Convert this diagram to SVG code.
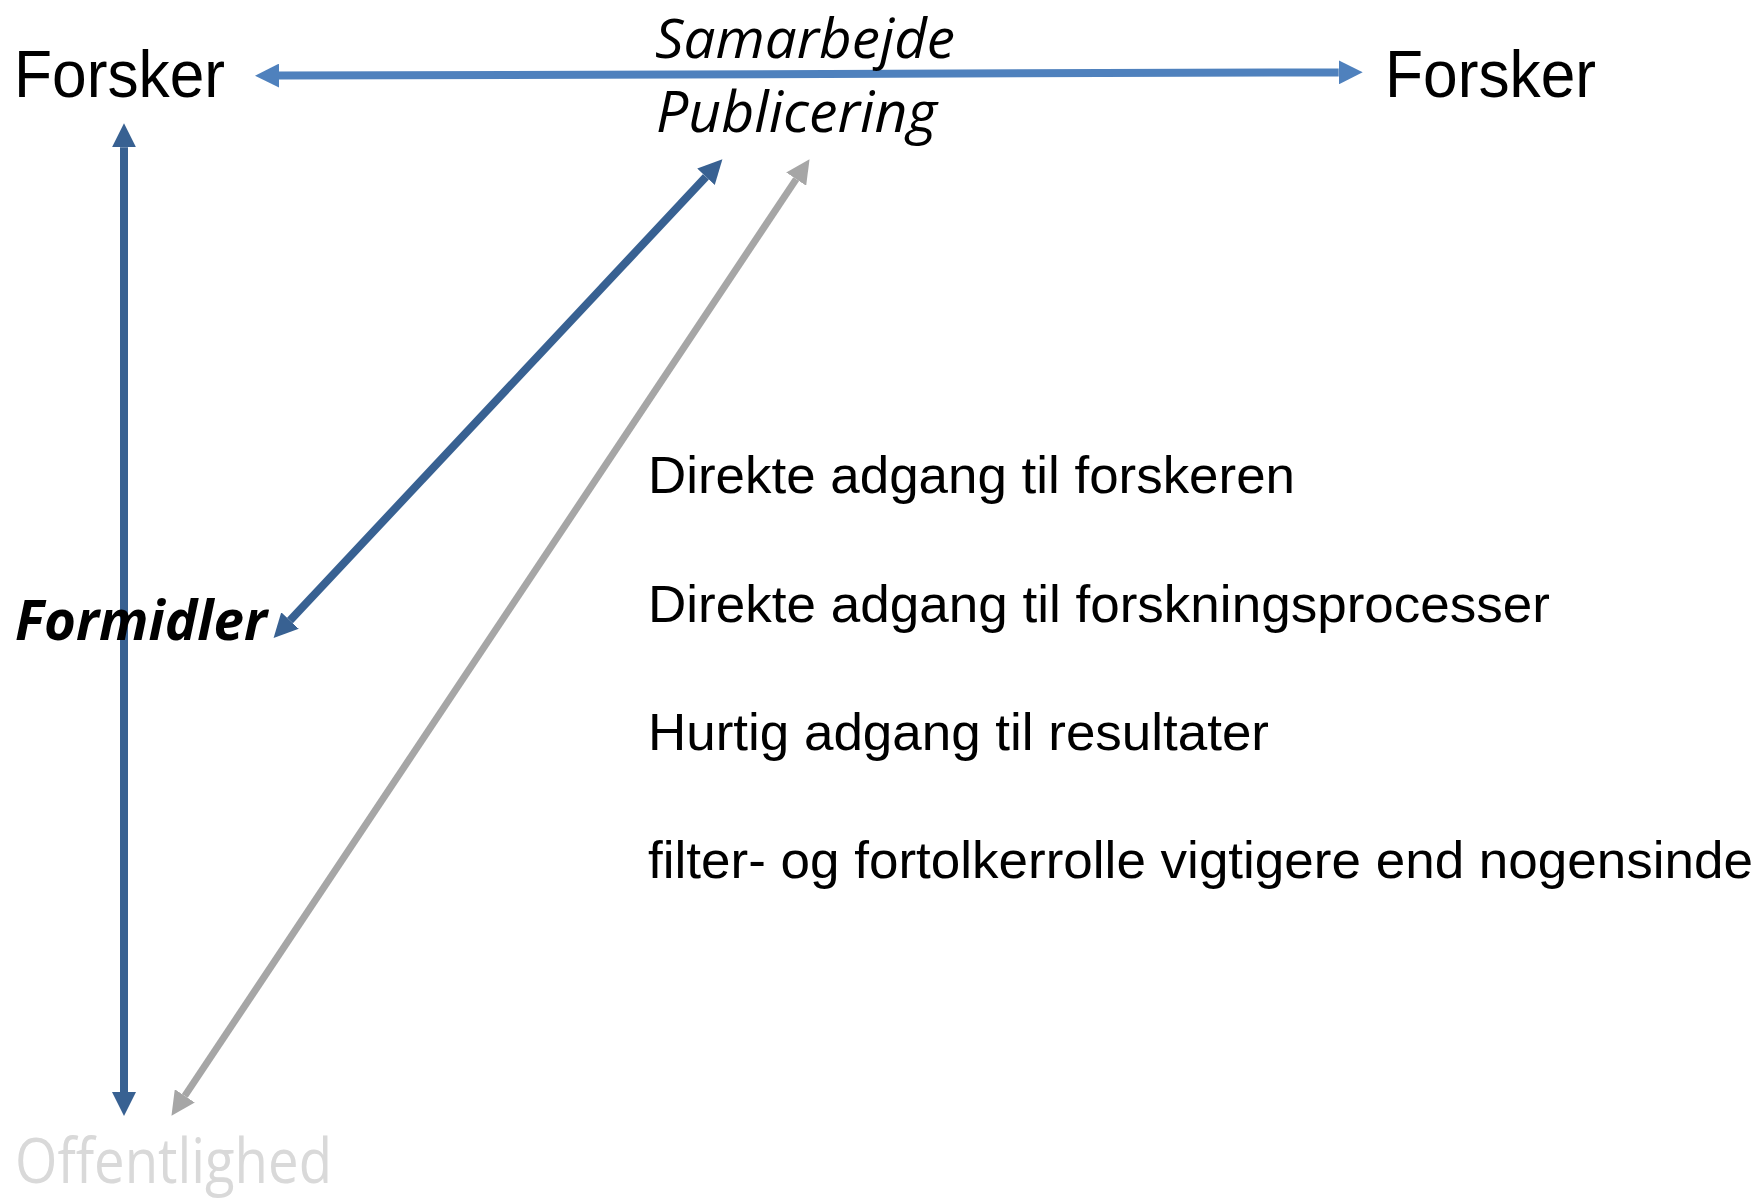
<svg xmlns="http://www.w3.org/2000/svg" width="1759" height="1199" viewBox="0 0 1759 1199">
<style>
.arial{font-family:"Liberation Sans",Arial,sans-serif;fill:#000}
.cal{font-family:"Open Sans","Noto Sans",sans-serif}
.big{font-size:66px}
.item{font-size:52px}
</style>
<defs>
<marker id="hLight" markerUnits="userSpaceOnUse" markerWidth="24" markerHeight="24" viewBox="0 0 24 24" refX="0" refY="12" orient="auto-start-reverse"><path d="M0,0 L24,12 L0,24 z" fill="#4f81bd"/></marker>
<marker id="hDark" markerUnits="userSpaceOnUse" markerWidth="24" markerHeight="24" viewBox="0 0 24 24" refX="0" refY="12" orient="auto-start-reverse"><path d="M0,0 L24,12 L0,24 z" fill="#386192"/></marker>
<marker id="hGray" markerUnits="userSpaceOnUse" markerWidth="24" markerHeight="24" viewBox="0 0 24 24" refX="0" refY="12" orient="auto-start-reverse"><path d="M0,0 L24,12 L0,24 z" fill="#a6a6a6"/></marker>
</defs>
<rect width="1759" height="1199" fill="#fff"/>
<g id="connectors" fill="none">
<line x1="279" y1="75.6" x2="1338.7" y2="72.4" stroke="#4f81bd" stroke-width="8" marker-start="url(#hLight)" marker-end="url(#hLight)"/>
<line x1="124" y1="147.3" x2="124" y2="1092" stroke="#386192" stroke-width="8" marker-start="url(#hDark)" marker-end="url(#hDark)"/>
<line x1="290" y1="620.5" x2="706" y2="176.8" stroke="#386192" stroke-width="8" marker-start="url(#hDark)" marker-end="url(#hDark)"/>
<line x1="184.8" y1="1095.9" x2="796.2" y2="179.1" stroke="#a6a6a6" stroke-width="7" marker-start="url(#hGray)" marker-end="url(#hGray)"/>
</g>
<g id="forsker-left"><text class="arial big" x="14" y="97" textLength="211" lengthAdjust="spacingAndGlyphs">Forsker</text></g>
<g id="forsker-right"><text class="arial big" x="1385" y="97" textLength="211" lengthAdjust="spacingAndGlyphs">Forsker</text></g>
<g id="samarbejde"><text class="cal" x="655" y="58" font-size="55" font-style="italic" textLength="300" lengthAdjust="spacingAndGlyphs">Samarbejde</text>
<text class="cal" x="656" y="131.7" font-size="56" font-style="italic" textLength="281" lengthAdjust="spacingAndGlyphs">Publicering</text></g>
<g id="formidler"><text class="cal" x="15" y="640" font-size="56" font-style="italic" font-weight="bold" textLength="252" lengthAdjust="spacingAndGlyphs">Formidler</text></g>
<g id="offentlighed"><text class="cal" x="15" y="1183" font-size="62" fill="#d9d9d9" textLength="317" lengthAdjust="spacingAndGlyphs">Offentlighed</text></g>
<g id="list">
<text class="arial item" x="648" y="493.3" textLength="647" lengthAdjust="spacingAndGlyphs">Direkte adgang til forskeren</text>
<text class="arial item" x="648" y="621.7" textLength="902" lengthAdjust="spacingAndGlyphs">Direkte adgang til forskningsprocesser</text>
<text class="arial item" x="648" y="750" textLength="621" lengthAdjust="spacingAndGlyphs">Hurtig adgang til resultater</text>
<text class="arial item" x="648" y="878.3" textLength="1105" lengthAdjust="spacingAndGlyphs">filter- og fortolkerrolle vigtigere end nogensinde</text>
</g>
</svg>
